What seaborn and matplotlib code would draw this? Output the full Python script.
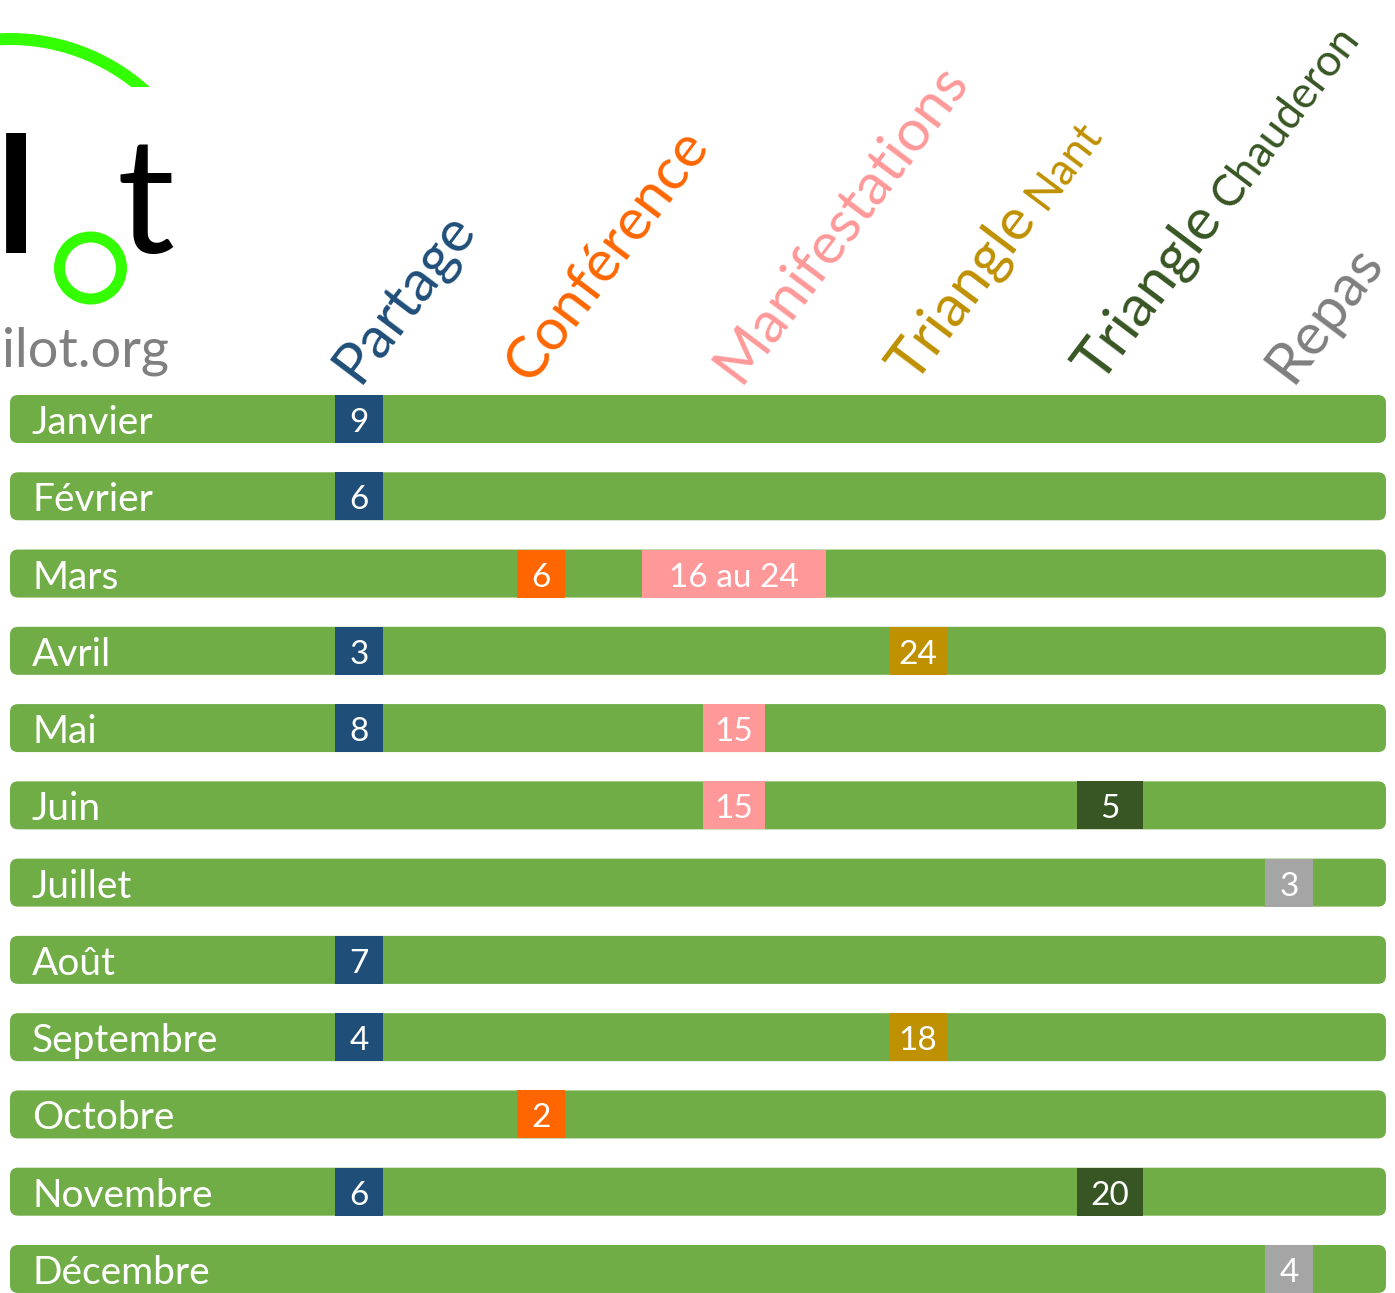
import numpy as np
import pandas as pd
import matplotlib
matplotlib.use("Agg")
import matplotlib.pyplot as plt
import seaborn as sns
from matplotlib.patches import FancyBboxPatch, Wedge, Rectangle

# Données du calendrier
mois = ["Janvier", "Février", "Mars", "Avril", "Mai", "Juin", "Juillet",
        "Août", "Septembre", "Octobre", "Novembre", "Décembre"]
activites = ["Partage", "Conférence", "Manifestations",
             "Triangle Nant", "Triangle Chauderon", "Repas"]

evt_mois = ["Janvier", "Février", "Mars", "Mars", "Avril", "Avril",
            "Mai", "Mai", "Juin", "Juin", "Juillet", "Août",
            "Septembre", "Septembre", "Octobre", "Novembre", "Novembre",
            "Décembre"]
evt_activite = ["Partage", "Partage", "Conférence", "Manifestations",
                "Partage", "Triangle Nant", "Partage", "Manifestations",
                "Manifestations", "Triangle Chauderon", "Repas", "Partage",
                "Partage", "Triangle Nant", "Conférence", "Partage",
                "Triangle Chauderon", "Repas"]
evt_jour = ["9", "6", "6", "16 au 24", "3", "24", "8", "15", "15", "5",
            "3", "7", "4", "18", "2", "6", "20", "4"]

# Styles
vert = "#70AD47"
vert_logo = "#33FF00"
couleur_case = {"Partage": "#1F4E79", "Conférence": "#FF6600",
                "Manifestations": "#FF9999", "Triangle Nant": "#BF9000",
                "Triangle Chauderon": "#375623", "Repas": "#A5A5A5"}
couleur_titre = dict(couleur_case, Repas="#7F7F7F")

# Mise en page (pixels)
W, H = 1395, 1293
x0 = 10
longueur = 1376
pas = 77.27
y_centre0 = 419
haut = 48 / pas
dy_txt = 4 / pas
col_centre = {"Partage": 359, "Conférence": 541, "Manifestations": 734,
              "Triangle Nant": 918, "Triangle Chauderon": 1110, "Repas": 1289}
col_largeur = {"Partage": 48, "Conférence": 48, "Manifestations": 62,
               "Triangle Nant": 57, "Triangle Chauderon": 66, "Repas": 48}
titre_x = {"Partage": 358, "Conférence": 530, "Manifestations": 740,
           "Triangle Nant": 914, "Triangle Chauderon": 1100, "Repas": 1292}
titre_y = 385
angle = 53

sns.set_style("white")
plt.rcParams["font.family"] = ["Lato", "DejaVu Sans"]

fig = plt.figure(figsize=(W / 100, H / 100), dpi=100)
ax = fig.add_axes([0, 0, 1, 1])

# Barres vertes des mois
df = pd.DataFrame({"mois": mois, "longueur": [longueur] * len(mois)})
sns.barplot(data=df, x="longueur", y="mois", orient="h", color=vert,
            saturation=1, width=haut, ax=ax)
for p in list(ax.patches):
    x, y, w, h = p.get_x(), p.get_y(), p.get_width(), p.get_height()
    p.remove()
    ax.add_patch(FancyBboxPatch((x, y), w, h,
                                boxstyle="round,pad=0,rounding_size=8",
                                mutation_aspect=1 / pas, fc=vert, ec="none",
                                zorder=1))

ax.set_xlim(-x0, W - x0)
ax.set_ylim((H - y_centre0) / pas, -y_centre0 / pas)
ax.axis("off")

for i, m in enumerate(mois):
    ax.text(22, i + dy_txt, m, color="white", fontsize=28, va="center",
            ha="left", zorder=3)

# Cases des activités
renderer = fig.canvas.get_renderer()
for m, a, j in zip(evt_mois, evt_activite, evt_jour):
    i = mois.index(m)
    c = col_centre[a] - x0
    t = ax.text(c, i + dy_txt, j, color="white", fontsize=24, ha="center",
                va="center", zorder=3)
    w = col_largeur[a]
    if " au " in j:
        w = t.get_window_extent(renderer).width + 54
    ax.barh(i, w, left=c - w / 2, height=haut, color=couleur_case[a],
            linewidth=0, zorder=2)

# Calque en pixels pour le logo et les titres
ax2 = fig.add_axes([0, 0, 1, 1])
ax2.set_xlim(0, W)
ax2.set_ylim(H, 0)
ax2.axis("off")
ax2.patch.set_alpha(0)

rad = np.deg2rad(angle)
for a in activites:
    parts = a.split(" ", 1)
    x, y = titre_x[a], titre_y
    ax2.text(x, y, parts[0], color=couleur_titre[a], fontsize=42,
             rotation=angle, rotation_mode="anchor", ha="left",
             va="baseline")
    if len(parts) > 1:
        tmp = ax2.text(0, 0, parts[0], fontsize=42)
        w_main = tmp.get_window_extent(renderer).width
        tmp.remove()
        d = w_main + 12
        ax2.text(x + d * np.cos(rad), y - d * np.sin(rad), parts[1],
                 color=couleur_titre[a], fontsize=32, rotation=angle,
                 rotation_mode="anchor", ha="left", va="baseline")

# Logo
arc = Wedge((10, 241), 208, 180, 360, width=12, fc=vert_logo, ec="none")
ax2.add_patch(arc)
arc.set_clip_path(Rectangle((0, 0), 400, 87, transform=ax2.transData))
ax2.add_patch(Wedge((90.5, 268), 36.5, 0, 360, width=11, fc=vert_logo,
                    ec="none"))
ax2.text(-4, 253, "l", fontsize=116, fontweight="bold", color="black",
         ha="left", va="baseline")
ax2.text(117, 253, "t", fontsize=116, color="black", ha="left",
         va="baseline")
ax2.text(2, 367, "ilot.org", fontsize=39, color="#808080", ha="left",
         va="baseline")

fig.savefig("out.png", dpi=100)
